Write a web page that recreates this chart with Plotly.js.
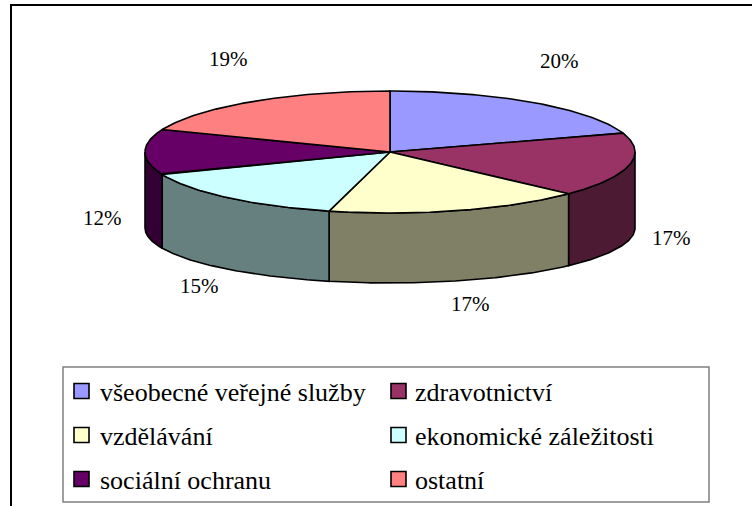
<!DOCTYPE html>
<html><head><meta charset="utf-8">
<script src="https://cdn.plot.ly/plotly-3.0.1.min.js"></script>
<style>html,body{margin:0;padding:0;background:#fff}
#chart{position:relative;z-index:1;width:752px;height:506px;background:#fff}
#fontwarm{position:absolute;left:20px;top:20px;z-index:0;color:#fff;font-family:'Liberation Serif';font-size:26px;white-space:nowrap}</style>
</head><body><div id="fontwarm" aria-hidden="true">%</div><div id="chart"></div>
<script>
// ---- data ----
const categories = ['všeobecné veřejné služby','zdravotnictví','vzdělávání','ekonomické záležitosti','sociální ochranu','ostatní'];
const shares = [20, 17, 17, 15, 12, 19];
const topColors = ['#9999ff','#993366','#ffffcc','#ccffff','#660066','#ff8080'];
const sideColors = ['#4d4d80','#4d1a33','#808066','#668080','#330033','#804040'];

// ---- geometry (layout) ----
const W = 752, H = 506;
const CX = 390, CY = 152, RX = 245, RY = 61, DEPTH = 76, RYB = 55;
const FONT = 'Liberation Serif';
const N = 80;

function topPt(t){ return [CX + RX*Math.sin(t), CY - RY*Math.cos(t)]; }
function botPt(t){ return [CX + RX*Math.sin(t), CY + DEPTH - RYB*Math.cos(t)]; }
function arc(fn, t1, t2){
  const xs=[], ys=[];
  for(let i=0;i<=N;i++){ const t=t1+(t2-t1)*i/N; const p=fn(t); xs.push(p[0]); ys.push(p[1]); }
  return [xs, ys];
}

const total = shares.reduce((a,b)=>a+b,0);
const starts = [], ends = [];
let acc = 0;
shares.forEach(v => { starts.push(acc/total*2*Math.PI); acc += v; ends.push(acc/total*2*Math.PI); });

const traces = [];
// side faces (front half only)
shares.forEach((v,i) => {
  const a = Math.max(starts[i], Math.PI/2), b = Math.min(ends[i], 3*Math.PI/2);
  if (b <= a) return;
  const [tx, ty] = arc(topPt, a, b);
  const [bx, by] = arc(botPt, b, a);
  traces.push({type:'scatter', mode:'lines', x: tx.concat(bx, [tx[0]]), y: ty.concat(by, [ty[0]]),
    fill:'toself', fillcolor: sideColors[i], line:{color:'#000', width:1.6},
    hoverinfo:'skip', showlegend:false});
});
// top faces
shares.forEach((v,i) => {
  const [tx, ty] = arc(topPt, starts[i], ends[i]);
  traces.push({type:'scatter', mode:'lines', x: [CX].concat(tx, [CX]), y: [CY].concat(ty, [CY]),
    fill:'toself', fillcolor: topColors[i], line:{color:'#000', width:1.6},
    hoverinfo:'skip', showlegend:false, name: categories[i]});
});
// percentage labels
const annotations = [];
shares.forEach((v,i) => {
  const tm = (starts[i] + ends[i]) / 2;
  const c = Math.cos(tm);
  annotations.push({xref:'x', yref:'y', showarrow:false, xanchor:'center', yanchor:'middle',
    x: CX + 288*Math.sin(tm),
    y: c > 0.01 ? CY - 113*c : CY + 66 + 90*(-c),
    text: Math.round(v/total*100) + '%',
    font:{family: FONT, size: 21, color:'#000'}});
});

// legend (2 columns x 3 rows)
const LEG = {x0: 63, y0: 367, x1: 709, y1: 502};
const colMarker = [81.5, 398.5], colText = [98, 413], rowY = [391, 435, 479];
const kx = [], ky = [];
categories.forEach((name, i) => {
  const col = i % 2, row = Math.floor(i/2);
  kx.push(colMarker[col]); ky.push(rowY[row]);
  annotations.push({xref:'x', yref:'y', x: colText[col], y: rowY[row] + 1, text: name, showarrow:false,
    xanchor:'left', yanchor:'middle', font:{family: FONT, size: 26, color:'#000'}});
});
traces.push({type:'scatter', mode:'markers', x: kx, y: ky,
  marker:{symbol:'square', size:15, color: topColors, line:{color:'#000', width:1.6}},
  hoverinfo:'skip', showlegend:false});

const layout = {
  width: W, height: H, margin:{l:0, r:0, t:0, b:0},
  paper_bgcolor:'#fff', plot_bgcolor:'#fff', showlegend:false,
  xaxis:{range:[0, W], visible:false, fixedrange:true},
  yaxis:{range:[H, 0], visible:false, fixedrange:true},
  shapes:[
    {type:'rect', xref:'x', yref:'y', x0: 11, y0: 5, x1: 1000, y1: 1000, line:{color:'#000', width:2}, fillcolor:'rgba(0,0,0,0)', layer:'below'},
    {type:'rect', xref:'x', yref:'y', x0: LEG.x0, y0: LEG.y0, x1: LEG.x1, y1: LEG.y1, line:{color:'#808080', width:1.5}, fillcolor:'#fff', layer:'below'}
  ],
  annotations: annotations
};
Plotly.newPlot('chart', traces, layout, {displayModeBar:false});
</script>
</body></html>
